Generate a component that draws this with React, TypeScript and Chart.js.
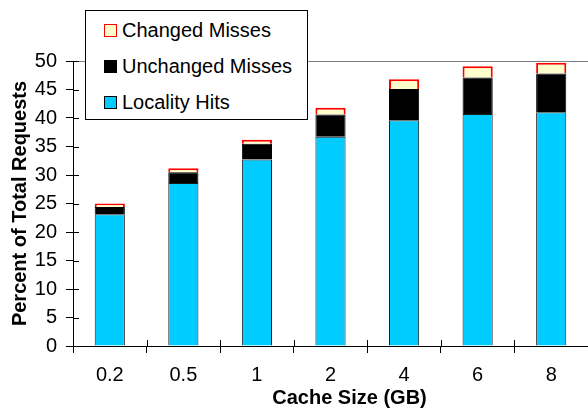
import React, { useEffect, useRef } from 'react';
import { Chart, registerables } from 'chart.js';

Chart.register(...registerables);

const categories = ['0.2', '0.5', '1', '2', '4', '6', '8'];
const localityHits = [23.1, 28.6, 32.7, 36.7, 39.6, 40.7, 41.0];
const unchangedMisses = [1.3, 1.9, 2.8, 3.9, 5.5, 6.4, 6.8];
const changedMisses = [0.6, 0.7, 0.7, 1.2, 1.7, 2.0, 1.9];
const yMin = 0;
const yMax = 50;
const yStep = 5;
const xTitle = 'Cache Size (GB)';
const yTitle = 'Percent of Total Requests';

const FONT = '"Liberation Sans", Arial, Helvetica, sans-serif';

const legendItems = [
  { label: 'Changed Misses', fill: '#FFFFCC', border: '#FF0000' },
  { label: 'Unchanged Misses', fill: '#000000', border: '#000000' },
  { label: 'Locality Hits', fill: '#00CCFF', border: '#000000' },
];

const innerTicks = {
  id: 'innerTicks',
  afterDraw(chart: any) {
    const ctx = chart.ctx;
    const x = chart.scales.x;
    const y = chart.scales.y;
    ctx.save();
    ctx.strokeStyle = '#000';
    ctx.lineWidth = 1;
    ctx.beginPath();
    for (let i = 0; i < y.ticks.length; i++) {
      const py = Math.round(y.getPixelForTick(i)) + 0.5;
      ctx.moveTo(y.right, py);
      ctx.lineTo(y.right + 6, py);
    }
    for (let i = 0; i <= categories.length; i++) {
      const px = Math.round(x.getPixelForValue(i - 0.5)) + 0.5;
      ctx.moveTo(px, x.top);
      ctx.lineTo(px, x.top - 6);
    }
    ctx.stroke();
    // x axis title, placed slightly right of the plot centre as in the reference
    ctx.fillStyle = '#000';
    ctx.font = `bold 20px ${FONT}`;
    ctx.textAlign = 'center';
    ctx.textBaseline = 'middle';
    const cx = (x.left + x.right) / 2 + 19;
    ctx.fillText(xTitle, cx, x.bottom - 12);
    ctx.restore();
  },
};

export default function App() {
  const ref = useRef<HTMLCanvasElement | null>(null);

  useEffect(() => {
    if (!ref.current) return;
    const chart = new Chart(ref.current, {
      type: 'bar',
      data: {
        labels: categories,
        datasets: [
          {
            label: 'Locality Hits',
            data: localityHits,
            backgroundColor: '#00CCFF',
            borderColor: '#1a1a1a',
            borderWidth: 1,
          },
          {
            label: 'Unchanged Misses',
            data: unchangedMisses,
            backgroundColor: '#000000',
            borderColor: '#000000',
            borderWidth: 1,
          },
          {
            label: 'Changed Misses',
            data: changedMisses,
            backgroundColor: '#FFFFCC',
            borderColor: '#FF0000',
            borderWidth: 2,
          },
        ],
      },
      options: {
        animation: false,
        responsive: false,
        maintainAspectRatio: false,
        datasets: { bar: { categoryPercentage: 1, barPercentage: 0.41 } },
        layout: { padding: { top: 61, left: 0, right: 0, bottom: 0 } },
        plugins: { legend: { display: false }, tooltip: { enabled: false } },
        scales: {
          x: {
            stacked: true,
            afterFit: (s: any) => { s.height = 64; },
            grid: {
              offset: true,
              drawOnChartArea: false,
              drawTicks: true,
              tickLength: 7,
              tickColor: '#000',
            },
            border: { color: '#000', width: 1 },
            ticks: { color: '#000', padding: 10, font: { family: FONT, size: 20 } },
            title: { display: false, text: xTitle },
          },
          y: {
            stacked: true,
            min: yMin,
            max: yMax,
            afterFit: (s: any) => { s.width = 73; },
            grid: {
              color: (c: any) => (c.tick && c.tick.value === yMax ? '#808080' : 'rgba(0,0,0,0)'),
              tickColor: '#000',
              tickLength: 7,
              drawTicks: true,
            },
            border: { color: '#000', width: 1 },
            ticks: {
              stepSize: yStep,
              color: '#000',
              padding: 9,
              font: { family: FONT, size: 20 },
            },
            title: {
              display: true,
              text: yTitle,
              color: '#000',
              padding: { top: 8, bottom: 0 },
              font: { family: FONT, size: 20, weight: 'bold' },
            },
          },
        },
      },
      plugins: [innerTicks],
    });
    return () => chart.destroy();
  }, []);

  return (
    <div style={{ position: 'fixed', left: 0, top: 0, width: 588, height: 410, background: '#fff' }}>
      <canvas ref={ref} width={588} height={410} style={{ display: 'block' }} />
      <div
        style={{
          position: 'absolute',
          left: 85,
          top: 10,
          width: 221,
          height: 108,
          border: '1px solid #000',
          background: '#fff',
          fontFamily: FONT,
          fontSize: 20,
          color: '#000',
        }}
      >
        {legendItems.map((it, i) => (
          <div
            key={it.label}
            style={{
              position: 'absolute',
              left: 18,
              top: 7 + i * 36,
              height: 24,
              display: 'flex',
              alignItems: 'center',
              whiteSpace: 'nowrap',
            }}
          >
            <span
              style={{
                display: 'inline-block',
                width: 11,
                height: 11,
                background: it.fill,
                border: `1px solid ${it.border}`,
                marginRight: 5,
              }}
            />
            <span style={{ lineHeight: '24px' }}>{it.label}</span>
          </div>
        ))}
      </div>
    </div>
  );
}
